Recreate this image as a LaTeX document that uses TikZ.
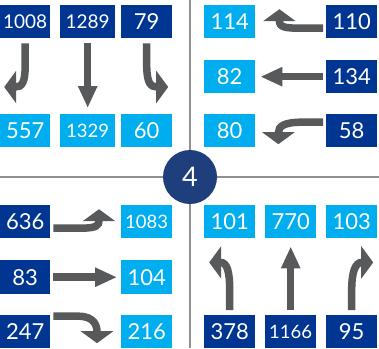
\documentclass[tikz,border=0pt]{standalone}
\usepackage{fontspec}
\setmainfont{Lato}
\usetikzlibrary{arrows.meta,calc}
\definecolor{navy}{HTML}{003591}
\definecolor{sky}{HTML}{00AEEF}
\definecolor{arrowgray}{HTML}{58595B}
\definecolor{linegray}{HTML}{909090}
\definecolor{circ}{HTML}{1E3F7B}
\tikzset{
  box/.style={anchor=north west, inner sep=0pt, minimum height=33pt, minimum width=51pt, text=white, font=\fontsize{22}{22}\selectfont},
  dk/.style={box, fill=navy},
  lt/.style={box, fill=sky},
  sm/.style={font=\fontsize{18.5}{18.5}\selectfont},
  flow/.style={draw=arrowgray, line width=7.5pt, -{Triangle[width=32pt,length=12pt]}},
  sflow/.style={draw=arrowgray, line width=7.5pt, -{Triangle[width=18pt,length=22pt]}},
  divider/.style={draw=linegray, line width=1.8pt}
}
\begin{document}
\begin{tikzpicture}[x=1pt,y=-1pt]
\useasboundingbox (0,0) rectangle (379,348);
% dividers
\coordinate (vt) at (190,0);
\coordinate (vb) at (190,348);
\coordinate (hl) at (0,177);
\coordinate (hr) at (379,177);
\draw[divider] (vt) -- (vb);
\draw[divider] (hl) -- (hr);
\node[circle, fill=circ, minimum size=54pt, inner sep=0pt, text=white, font=\fontsize{27}{27}\selectfont] (c) at (190,177) {4};
% top-left
\node[dk, minimum width=50pt] (n1008) at (0,5) {\fontsize{19}{19}\selectfont 1008};
\node[dk, minimum width=55pt] (n1289) at (60,5) {\fontsize{19}{19}\selectfont 1289};
\node[dk] (n79) at (121,5) {79};
\node[lt, minimum width=50pt] (n557) at (0,114) {557};
\node[lt, minimum width=55pt, sm] (n1329) at (60,114) {1329};
\node[lt] (n60) at (121,114) {60};
% top-right
\node[lt] (n114) at (204,5) {114};
\node[dk] (n110) at (326,5) {110};
\node[lt] (n82) at (204,60) {82};
\node[dk] (n134) at (326,60) {134};
\node[lt] (n80) at (204,114) {80};
\node[dk] (n58) at (326,114) {58};
% bottom-left
\node[dk, minimum width=50pt] (n636) at (0,205) {636};
\node[lt, sm] (n1083) at (121,205) {1083};
\node[dk, minimum width=50pt, minimum height=34pt] (n83) at (0,260) {83};
\node[lt, minimum height=34pt] (n104) at (121,260) {104};
\node[dk, minimum width=50pt] (n247) at (0,315) {247};
\node[lt] (n216) at (121,315) {216};
% bottom-right
\node[lt] (n101) at (204,205) {101};
\node[lt] (n770) at (265,205) {770};
\node[lt] (n103) at (326,205) {103};
\node[dk] (n378) at (204,315) {378};
\node[dk, sm] (n1166) at (265,315) {1166};
\node[dk] (n95) at (326,315) {95};
% arrows
\draw[flow] ($(n1008.south)+(0,5)$) -- ++(0,21) .. controls +(0,18) and +(18,0) .. ($(n557.north)+(-21,-27)$);
\draw[sflow] ($(n1289.south)+(0,5)$) -- ($(n1329.north)+(0,-6)$);
\draw[flow] ($(n79.south)+(0,5)$) -- ++(0,21) .. controls +(0,18) and +(-18,0) .. ($(n60.north)+(21.5,-27)$);
\draw[flow] ($(n110.west)+(-3,6.5)$) -- ++(-21,0) .. controls +(-18,0) and +(0,18) .. ($(n114.east)+(24,-12.5)$);
\draw[sflow] ($(n134.west)+(-3,0)$) -- ($(n82.east)+(5,0)$);
\draw[flow] ($(n58.west)+(-3,-8.5)$) -- ++(-21,0) .. controls +(-18,0) and +(0,-18) .. ($(n80.east)+(23,13.5)$);
\draw[flow] ($(n636.east)+(3,6.5)$) -- ++(27,0) .. controls +(17,0) and +(0,16) .. ($(n1083.west)+(-22,-12.5)$);
\draw[sflow] ($(n83.east)+(3,0)$) -- ($(n104.west)+(-4,0)$);
\draw[flow] ($(n247.east)+(3,-15.5)$) -- ++(25,0) .. controls +(17,0) and +(0,-16) .. ($(n216.west)+(-24,11.5)$);
\draw[flow] ($(n378.north)+(0,-5)$) -- ++(0,-20) .. controls +(0,-18) and +(18,0) .. ($(n101.south)+(-20.5,24)$);
\draw[sflow] ($(n1166.north)+(0,-5)$) -- ($(n770.south)+(0,8)$);
\draw[flow] ($(n95.north)+(0,-5)$) -- ++(0,-20) .. controls +(0,-18) and +(-18,0) .. ($(n103.south)+(21.5,24)$);
\end{tikzpicture}
\end{document}
